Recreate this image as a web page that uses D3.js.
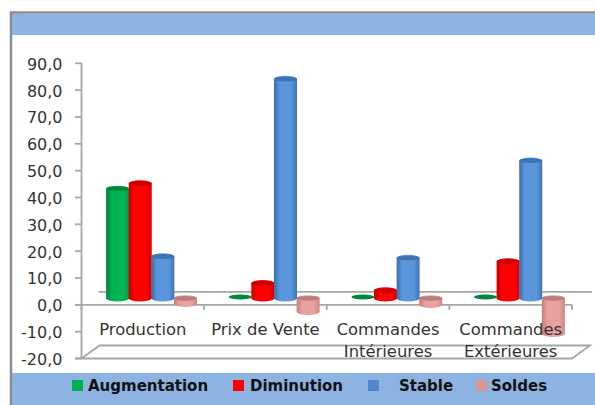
<!DOCTYPE html>
<html><head><meta charset="utf-8">
<script src="https://cdnjs.cloudflare.com/ajax/libs/d3/7.8.5/d3.min.js"></script>
<style>html,body{margin:0;padding:0;background:#fff}svg{display:block}</style>
</head><body><svg id="c" width="595" height="405"></svg>
<script>
const categories=[["Production"],["Prix de Vente"],["Commandes","Intérieures"],["Commandes","Extérieures"]];
const seriesNames=["Augmentation","Diminution","Stable","Soldes"];
const augmentation=[40.8,0.5,0.5,0.5];
const diminution=[42.8,5.6,2.9,13.7];
const stable=[15.6,81.7,15,51.3];
const soldes=[-2,-5,-2.4,-13.2];
const tickValues=[90,80,70,60,50,40,30,20,10,0,-10,-20];
const seriesValues=[augmentation,diminution,stable,soldes];
const colors=[
 {side:["#00803f","#00b050","#00b858","#009a46"],top:"#00873f"},
 {side:["#c80000","#ff0000","#ff0000","#d80000"],top:"#c80000"},
 {side:["#3a6ca8","#5a96dc","#5a96dc","#3f74b4"],top:"#3f72ae"},
 {side:["#c27f7f","#e8a0a0","#e8a0a0","#c88888"],top:"#bb7c7c"}];
const legendColors=["#00b050","#ff0000","#4f88d0","#d99694"];
const svg=d3.select("#c");
const W=595,H=405;
const y=d3.scaleLinear().domain([-20,90]).range([358.5,63.3]);
const x=d3.scaleBand().domain(d3.range(4)).range([81.5,572]);
const inner=d3.scaleBand().domain(d3.range(4)).range([0,90.5]);
const depthX=18,depthY=13,gray="#a6a6a6";
const defs=svg.append("defs");
colors.forEach((c,i)=>{
 const g=defs.append("linearGradient").attr("id","g"+i);
 c.side.forEach((s,j)=>g.append("stop").attr("offset",[0,.25,.75,1][j]).attr("stop-color",s));
});
svg.append("rect").attr("x",11).attr("y",12.5).attr("width",W).attr("height",H).attr("fill","#fff").attr("stroke","#8c8c8c").attr("stroke-width",2.5);
svg.append("rect").attr("x",12).attr("y",14).attr("width",W).attr("height",21).attr("fill","#8db3e2");
svg.append("rect").attr("x",12).attr("y",373).attr("width",W).attr("height",32).attr("fill","#8db3e2");
const L=svg.append("g").attr("fill","none").attr("stroke",gray).attr("stroke-width",1.8);
const y0=y(0),yb=y(-20);
L.append("path").attr("d",`M${x.range()[0]},${y(90)}V${yb}`);
L.append("path").attr("d",`M75,${y0}H${x.range()[1]}`);
L.append("path").attr("d",`M${x.range()[0]+depthX-1},${y0-depthY}H${x.range()[1]+depthX+2}`);
L.append("path").attr("d",`M${x.range()[0]},${yb}L${x.range()[0]+depthX},${yb-depthY}H${x.range()[1]+depthX}L${x.range()[1]},${yb}H75`);
tickValues.forEach(t=>L.append("path").attr("d",`M75,${y(t)}H${x.range()[0]}`));
d3.range(5).forEach(i=>{const px=x.range()[0]+i*x.step();L.append("path").attr("d",`M${px},${y0}v5`);});
const zeroY=y0-depthY/2;
const ry=3.2;
function cyl(px,w,y1,y2){const rx=w/2;return `M${px},${y1}A${rx},${ry} 0 0 1 ${px+w},${y1}V${y2}A${rx},${ry} 0 0 1 ${px},${y2}Z`;}
const bars=svg.append("g");
categories.forEach((c,ci)=>{
 seriesValues.forEach((vals,si)=>{
  const v=vals[ci];
  const px=x(ci)+24.6+inner(si);
  const w=inner.bandwidth()+0.4;
  const top=zeroY+(y(Math.max(v,0))-y0);
  const bot=zeroY+(y(Math.min(v,0))-y0);
  if(Math.abs(v)>1){
   bars.append("path").attr("d",cyl(px,w,top,bot)).attr("fill",`url(#g${si})`);
  }
  bars.append("ellipse").attr("cx",px+w/2).attr("cy",top).attr("rx",w/2).attr("ry",ry-0.8).attr("fill",colors[si].top);
 });
});
const font='"DejaVu Sans",sans-serif';
const T=svg.append("g").attr("font-family",font).attr("fill","#333");
tickValues.forEach(t=>T.append("text").attr("x",62.5).attr("y",y(t)+6.5).attr("text-anchor","end").attr("font-size",16).text(d3.format(".1f")(t).replace(".",",").replace("−","-")));
categories.forEach((c,i)=>{
 const cx=x(i)+x.bandwidth()/2;
 c.forEach((s,j)=>T.append("text").attr("x",cx).attr("y",335+j*22).attr("text-anchor","middle").attr("font-size",16.4).text(s));
});
const legendX=[72,233,368,476],legendT=[88,250,399,491];
seriesNames.forEach((n,i)=>{
 svg.append("rect").attr("x",legendX[i]).attr("y",380).attr("width",11).attr("height",11).attr("fill",legendColors[i]);
 svg.append("text").attr("x",legendT[i]).attr("y",391).attr("font-family",font).attr("font-weight","bold").attr("font-size",15).attr("fill","#111").text(n);
});
</script></body></html>
